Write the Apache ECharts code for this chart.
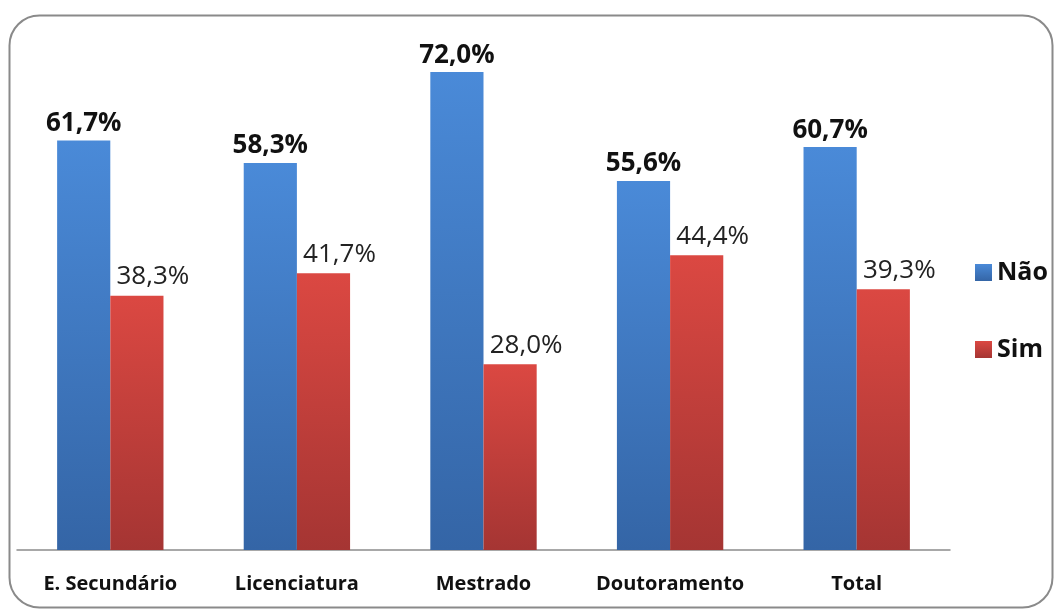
<!DOCTYPE html>
<html><head><meta charset="utf-8">
<script src="https://cdn.jsdelivr.net/npm/echarts@6/dist/echarts.min.js"></script>
<style>html,body{margin:0;padding:0;background:#fff}#c{width:1058px;height:610px}</style>
</head><body><div id="c"></div>
<script>
const categories = ['E. Secundário', 'Licenciatura', 'Mestrado', 'Doutoramento', 'Total'];
const naoValues = [61.7, 58.3, 72.0, 55.6, 60.7];
const simValues = [38.3, 41.7, 28.0, 44.4, 39.3];
const seriesNames = ['Não', 'Sim'];

const FONT = '"Open Sans", "Liberation Sans", sans-serif';
const fmt = v => v.toFixed(1).replace('.', ',') + '%';
const grad = (a, b) => new echarts.graphic.LinearGradient(0, 0, 0, 1, [{offset: 0, color: a}, {offset: 1, color: b}]);

const chart = echarts.init(document.getElementById('c'));
chart.setOption({
  animation: false,
  backgroundColor: '#fff',
  graphic: [{
    type: 'rect', left: 7, top: 13, z: -1,
    shape: {width: 1043, height: 592, r: 30},
    style: {fill: 'none', stroke: '#8a8a8a', lineWidth: 2}
  }],
  grid: {left: 17, right: 108, top: 19, bottom: 60},
  legend: {
    orient: 'vertical', left: 970, top: 255, itemGap: 52,
    itemWidth: 17, itemHeight: 17, icon: 'rect',
    textStyle: {fontFamily: FONT, fontSize: 25, fontWeight: 'bold', color: '#111'},
    data: seriesNames
  },
  xAxis: {
    type: 'category', data: categories,
    axisLine: {lineStyle: {color: '#8c8c8c', width: 1.5}},
    axisTick: {show: false},
    axisLabel: {interval: 0, hideOverlap: false, fontFamily: FONT, fontSize: 20, fontWeight: 'bold', color: '#111', margin: 24}
  },
  yAxis: {type: 'value', min: 0, max: 80, show: false, splitLine: {show: false}},
  series: [
    {
      name: seriesNames[0], type: 'bar', data: naoValues, barGap: '0%', barCategoryGap: '43%',
      itemStyle: {color: grad('#4a8ad8', '#3465a6')},
      label: {show: true, position: 'top', distance: 4, formatter: p => fmt(p.value),
        fontFamily: FONT, fontSize: 26, fontWeight: 'bold', color: '#111'}
    },
    {
      name: seriesNames[1], type: 'bar', data: simValues,
      itemStyle: {color: grad('#db4842', '#a53533')},
      label: {show: true, position: 'top', distance: 6, offset: [16, 0], formatter: p => fmt(p.value),
        fontFamily: FONT, fontSize: 26, fontWeight: 'normal', color: '#222'}
    }
  ]
});
</script></body></html>
